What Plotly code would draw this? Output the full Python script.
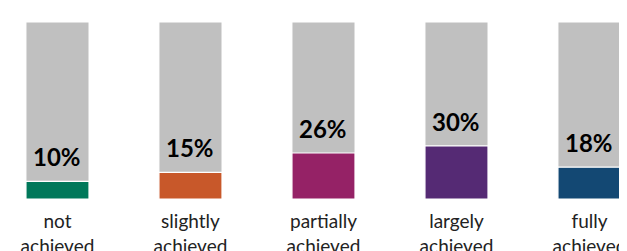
import plotly.graph_objects as go

categories = ["not<br>achieved", "slightly<br>achieved", "partially<br>achieved", "largely<br>achieved", "fully<br>achieved"]
values = [10, 15, 26, 30, 18]
totals = [100, 100, 100, 100, 100]
colors = ["#00785a", "#c8582a", "#952266", "#552a74", "#134873"]

x = list(range(len(categories)))
fig = go.Figure()
fig.add_trace(go.Bar(x=x, y=totals, width=0.474, marker=dict(color="#c0c0c0", line=dict(color="white", width=1)),
                     hoverinfo="skip"))
fig.add_trace(go.Bar(x=x, y=values, width=0.474, marker=dict(color=colors, line=dict(color="white", width=1.2))))

for xi, v in zip(x, values):
    fig.add_annotation(x=xi, y=v, text=f"<b>{v}%</b>", showarrow=False, yanchor="bottom", yshift=8,
                       font=dict(family="Lato", size=24, color="black", weight=900))

fig.update_layout(
    width=627, height=251, barmode="overlay", showlegend=False,
    margin=dict(l=0, r=0, t=14, b=60, autoexpand=False),
    paper_bgcolor="white", plot_bgcolor="white",
    xaxis=dict(range=[-0.372, -0.372 + 627 / 133], tickvals=x, ticktext=categories, showgrid=False, zeroline=False,
               showline=False, ticks="", automargin=False,
               tickfont=dict(family="Lato", size=19, color="#222"), ticklabelstandoff=9),
    yaxis=dict(range=[0, 100], visible=False, automargin=False),
)
fig.write_html("out.html")
